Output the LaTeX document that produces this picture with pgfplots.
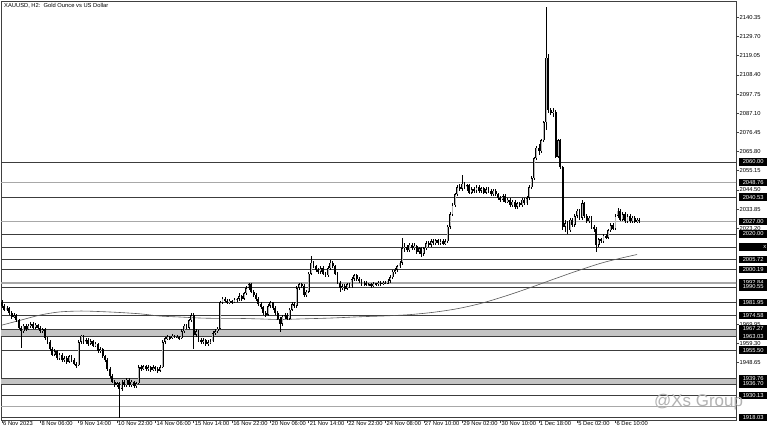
\documentclass[border=0pt]{standalone}
\usepackage{fontspec}
\setmainfont{Liberation Sans}
\usepackage{pgfplots}
\usepackage{pgfplotstable}
\pgfplotsset{compat=1.18}
\pgfplotstableread{
i o h l c
0 1982 1983.5 1979 1980
1 1980 1981 1977 1978
2 1978 1980 1977.5 1979
3 1979 1979.5 1975 1976
4 1976 1977 1973 1974
5 1974 1976 1973.5 1975
6 1975 1975.5 1971 1972
7 1972 1973 1967 1968
8 1968 1969 1956.7 1966
9 1966 1970 1965 1969
10 1969 1970 1966 1967
11 1967 1970 1966.5 1969
12 1969 1971 1968 1970
13 1970 1971 1967 1968
14 1968 1970.5 1967.5 1969.5
15 1969.5 1970 1967 1968
16 1968 1969 1965 1966
17 1966 1968 1965 1967
18 1967 1968 1961 1962
19 1962 1963 1959 1960
20 1960 1961 1955 1956
21 1956 1957 1952 1953
22 1953 1956 1952 1955
23 1955 1955.5 1950 1951
24 1951 1954 1950 1953
25 1953 1954 1949 1950
26 1950 1952 1949 1951
27 1951 1952 1948 1949
28 1949 1953 1948.5 1952
29 1952 1953 1949 1950
30 1950 1951 1947 1948
31 1948 1949 1945.5 1947
32 1947 1961 1946.5 1960
33 1960 1964 1959 1963.5
34 1963.5 1964 1959 1960
35 1960 1962 1959 1961
36 1961 1962 1958 1959
37 1959 1961.5 1958.5 1960.5
38 1960.5 1961 1957 1958
39 1958 1960 1957 1959
40 1959 1959.5 1954 1955
41 1955 1957 1954 1956
42 1956 1956.5 1951 1952
43 1952 1953 1949 1950
44 1950 1951 1944 1945
45 1945 1946 1940 1941
46 1941 1942 1937 1938
47 1938 1939 1935 1936
48 1936 1938 1935 1937
49 1937 1938 1917.8 1934
50 1934 1939 1933 1938
51 1938 1939 1935 1936
52 1936 1940 1935 1939
53 1939 1940 1935 1936
54 1936 1939 1935 1938
55 1938 1938.5 1934.5 1935.5
56 1935.5 1938 1934.5 1937
57 1937 1947 1936.5 1946
58 1946 1947.5 1944 1945
59 1945 1947 1944.5 1946.5
60 1946.5 1947 1944 1945
61 1945 1947 1944 1946
62 1946 1946.5 1943.5 1944.5
63 1944.5 1947 1944 1946
64 1946 1946.5 1944 1945
65 1945 1946 1943 1944
66 1944 1947 1943.5 1946
67 1946 1961 1945.5 1960
68 1960 1963 1959 1962
69 1962 1964 1961 1963
70 1963 1963.5 1961 1962
71 1962 1964.5 1961.5 1963.5
72 1963.5 1964 1962 1962.5
73 1962.5 1964 1962 1963
74 1963 1963.5 1961 1962
75 1962 1967 1961.5 1966
76 1966 1970 1965 1969
77 1969 1970 1967 1968
78 1968 1973 1967.5 1972
79 1972 1976 1971 1975
80 1975 1976 1956 1964
81 1964 1967 1963 1966
82 1966 1966.5 1960 1961
83 1961 1962 1959 1960
84 1960 1962 1959 1961
85 1961 1961.5 1958 1959
86 1959 1961 1958 1960
87 1960 1961.5 1959 1960.5
88 1960.5 1966 1960 1965
89 1965 1967 1964 1966
90 1966 1968.5 1965 1967.5
91 1967.5 1983 1967 1982
92 1982 1985 1981 1984
93 1984 1985 1982 1983
94 1983 1984 1981 1982
95 1982 1984 1981 1983
96 1983 1983.5 1981 1982
97 1982 1984.5 1981.5 1983.5
98 1983.5 1984.5 1982 1984
99 1984 1987 1983 1985.5
100 1985.5 1986 1983 1984
101 1984 1988 1983.5 1987
102 1987 1991 1986 1990
103 1990 1993 1989 1992
104 1992 1992.5 1987 1988
105 1988 1989 1985 1986
106 1986 1987 1983 1984
107 1984 1985 1980 1981
108 1981 1982 1978.5 1979.5
109 1979.5 1980 1975 1976
110 1976 1977 1974 1975
111 1975 1981 1974.5 1980
112 1980 1983 1979 1982
113 1982 1982.5 1978 1979
114 1979 1980 1975 1976
115 1976 1977 1972 1973
116 1973 1974 1965.7 1970
117 1970 1975 1969 1974
118 1974 1976 1973 1975
119 1975 1976 1972 1973
120 1973 1979 1972.5 1978
121 1978 1982 1977 1981
122 1981 1982 1979 1980
123 1980 1991 1979 1990
124 1990 1993 1989 1992
125 1992 1993 1990 1991
126 1991 1992 1985 1986
127 1986 1989 1985 1988
128 1988 1999 1987 1998
129 1998 2007.8 1997 2004
130 2004 2005 2001 2002
131 2002 2003 1999 2000
132 2000 2001 1998 1999
133 1999 2002 1998 2001
134 2001 2002 1997 1998
135 1998 1999 1996 1997
136 1997 2002 1996 2001
137 2001 2005.6 2000 2004
138 2004 2005 2001 2002
139 2002 2003 1997 1998
140 1998 1999 1992 1993
141 1993 1994 1987.8 1990
142 1990 1992 1989 1991
143 1991 1992 1988.5 1989.5
144 1989.5 1993 1989 1992
145 1992 1993 1990 1991
146 1991 1996 1990 1995
147 1995 1998 1994 1997
148 1997 1998 1994 1995
149 1995 1996 1993 1994
150 1994 1995 1991 1992
151 1992 1994 1991 1993
152 1993 1994 1991 1991.5
153 1991.5 1993 1991 1992
154 1992 1993 1990 1991
155 1991 1993.5 1990.5 1992.5
156 1992.5 1993 1991 1992
157 1992 1994 1991 1993
158 1993 1994 1991 1992
159 1992 1994 1991.5 1993
160 1993 1994 1992 1992.5
161 1992.5 1995 1992 1994
162 1994 1997 1993 1996
163 1996 2000 1995 1999
164 1999 2001 1998 2000
165 2000 2003 1999 2002
166 2002 2005 2001 2004
167 2004 2018 2003 2012
168 2012 2015 2010 2013
169 2013 2014 2010 2011
170 2011 2015 2010 2014
171 2014 2015 2011 2012
172 2012 2015 2011 2013.5
173 2013.5 2014 2009 2010
174 2010 2013 2009 2012
175 2012 2013 2007 2009
176 2009 2013 2008 2012
177 2012 2016 2011 2015
178 2015 2016 2013 2014
179 2014 2017 2013 2016
180 2016 2017 2014 2015
181 2015 2017 2014 2016.5
182 2016.5 2017 2014 2015
183 2015 2017 2014 2016
184 2016 2017 2014 2014.5
185 2014.5 2017 2014 2016
186 2016 2025 2015 2024
187 2024 2032 2023 2031
188 2031 2037 2030 2036
189 2036 2043 2035 2042
190 2042 2047 2041 2046
191 2046 2048 2044 2045
192 2045 2052.8 2044 2048
193 2048 2049 2045 2046
194 2046 2048 2044 2047
195 2047 2048 2042 2043
196 2043 2046 2042 2045
197 2045 2046 2043 2044
198 2044 2047 2043 2046
199 2046 2047 2043 2044
200 2044 2046 2043 2045.5
201 2045.5 2046 2042 2043
202 2043 2046 2042 2045
203 2045 2046 2043 2044
204 2044 2045 2041 2042
205 2042 2045 2041 2044
206 2044 2045 2041 2042
207 2042 2043 2039 2040
208 2040 2041 2038 2039
209 2039 2042 2038 2041
210 2041 2042 2037 2038
211 2038 2040 2037 2039
212 2039 2040 2035 2036
213 2036 2039 2035 2038
214 2038 2039 2034 2035
215 2035 2038 2034 2037
216 2037 2038 2035 2036
217 2036 2040 2035 2039
218 2039 2040 2036 2037
219 2037 2041 2036 2040
220 2040 2047 2039 2046
221 2046 2052 2045 2051
222 2051 2063 2050 2062
223 2062 2069 2061 2068
224 2068 2070 2064 2066
225 2066 2073 2065 2072
226 2072 2083 2071 2082
227 2082 2146 2078 2118
228 2118 2120 2087 2089
229 2089 2090 2086 2087
230 2087 2090 2085 2088
231 2088 2089 2062 2063
232 2063 2073 2062 2072
233 2072 2073 2056 2057
234 2057 2058 2022 2024
235 2024 2028 2021 2026
236 2026 2027 2020 2022
237 2022 2029 2021 2028
238 2028 2029 2024 2025
239 2025 2031 2024 2030
240 2030 2034 2029 2033
241 2033 2034 2028 2029
242 2029 2039 2028 2037
243 2037 2038 2029 2030
244 2030 2031 2026 2027
245 2027 2030 2026 2029
246 2029 2030 2023 2024
247 2024 2025 2021 2023
248 2023 2024 2010 2014
249 2014 2018 2013 2017
250 2017 2018 2015 2016
251 2016 2020 2015 2019
252 2019 2020 2017 2018
253 2018 2023 2017 2022
254 2022 2026 2021 2025
255 2025 2026 2022 2023
256 2023 2031 2022 2030
257 2030 2034.5 2029 2033
258 2033 2034 2027 2028
259 2028 2032 2027 2031
260 2031 2032 2026 2027
261 2027 2031 2026 2030
262 2030 2031 2026 2027
263 2027 2030 2026 2029
264 2029 2030 2026 2026.5
265 2026.5 2029 2026 2028
266 2028 2029 2026 2027
}\bars
\pgfplotstableread{
i ma
0 1969.4
8 1972.2
16 1975.0
24 1976.7
33 1977.2
41 1976.9
49 1976.4
58 1975.6
66 1974.4
74 1973.9
83 1973.3
91 1973.1
99 1973.1
108 1972.8
116 1972.5
124 1972.8
137 1973.3
149 1974.0
160 1974.5
170 1975.2
180 1976.5
190 1978.5
200 1981.5
210 1985.5
220 1990.0
230 1994.8
240 1999.5
250 2003.8
258 2006.5
265 2008.6
}\matab
\definecolor{lvl}{HTML}{3C3C3C}
\definecolor{glvl}{HTML}{A8A8A8}
\definecolor{band}{HTML}{C4C4C4}
\definecolor{bull}{HTML}{B8B8B8}
\newcommand{\tf}{\fontsize{5.8}{6.5}\selectfont}
\begin{document}
\begin{tikzpicture}
\useasboundingbox (0,0) rectangle (768bp,433bp);
\begin{axis}[
  at={(1bp,13bp)}, anchor=south west,
  scale only axis, width=735bp, height=419bp,
  xmin=-0.42, xmax=306.3, ymin=1916.67, ymax=2149.44,
  clip=true,
  axis line style={draw=black!75, line width=0.6bp},
  tick style={draw=black!75, line width=0.5bp},
  tick align=outside, major tick length=3bp,
  xtick={0,16,...,256},
  xticklabels={6 Nov 2023, 8 Nov 06:00, 9 Nov 14:00, 10 Nov 22:00, 14 Nov 06:00, 15 Nov 14:00, 16 Nov 22:00, 20 Nov 06:00, 21 Nov 14:00, 22 Nov 22:00, 24 Nov 08:00, 27 Nov 10:00, 29 Nov 02:00, 30 Nov 10:00, 1 Dec 18:00, 5 Dec 02:00, 6 Dec 10:00},
  xticklabel style={font=\tf, anchor=north west, inner sep=0pt, xshift=1bp, yshift=2bp},
  xtick pos=bottom,
  ytick pos=right, yticklabel pos=right,
  ytick={2140.35,2129.70,2119.05,2108.40,2097.75,2087.10,2076.45,2065.80,2055.15,2044.50,2033.85,2023.20,1969.95,1959.30,1948.65},
  yticklabels={2140.35,2129.70,2119.05,2108.40,2097.75,2087.10,2076.45,2065.80,2055.15,2044.50,2033.85,2023.20,1969.95,1959.30,1948.65},
  yticklabel style={font=\tf, anchor=west, inner sep=0pt, xshift=0.5bp},
  axis background/.style={fill=white},
]
% grey bands
\fill[band] (axis cs:-5,1963.03) rectangle (axis cs:320,1967.27);
\fill[band] (axis cs:-5,1936.70) rectangle (axis cs:320,1939.76);
% level lines
\addplot[glvl, line width=1.3bp, forget plot] coordinates {(-5,2048.76) (320,2048.76)};
\addplot[glvl, line width=1.3bp, forget plot] coordinates {(-5,2027.00) (320,2027.00)};
\addplot[glvl, line width=1.3bp, forget plot] coordinates {(-5,1992.84) (320,1992.84)};
\addplot[glvl, line width=1.0bp, forget plot] coordinates {(-5,1924.40) (320,1924.40)};
\foreach \p in {2060.00,2040.53,2020.00,2012.80,2005.72,2000.19,1990.55,1981.95,1974.58,1967.27,1963.03,1955.50,1939.76,1936.70,1930.13,1918.03}{
  \addplot[lvl, line width=0.6bp, forget plot] coordinates {(-5,\p) (320,\p)};
}
% moving average
\addplot[black!65, line width=0.6bp, smooth, forget plot] table[x=i, y=ma] {\matab};
% wicks
\addplot[draw=none, mark=none, forget plot,
  error bars/.cd, y dir=both, y explicit, error mark=none,
  error bar style={draw=black, line width=0.55bp}]
  table[x=i, y expr={(\thisrow{h}+\thisrow{l})/2}, y error expr={(\thisrow{h}-\thisrow{l})/2}] {\bars};
% bullish bodies
\addplot[draw=none, mark=none, forget plot,
  restrict expr to domain={\thisrow{c}-\thisrow{o}}{0:1000},
  error bars/.cd, y dir=both, y explicit, error mark=none,
  error bar style={draw=black, line width=1.9bp}]
  table[x=i, y expr={(\thisrow{o}+\thisrow{c})/2}, y error expr={max(abs(\thisrow{c}-\thisrow{o})/2,0.3)}] {\bars};
\addplot[draw=none, mark=none, forget plot,
  restrict expr to domain={\thisrow{c}-\thisrow{o}}{0:1000},
  error bars/.cd, y dir=both, y explicit, error mark=none,
  error bar style={draw=bull, line width=0.8bp}]
  table[x=i, y expr={(\thisrow{o}+\thisrow{c})/2}, y error expr={max(abs(\thisrow{c}-\thisrow{o})/2-0.3,0.01)}] {\bars};
% bearish bodies
\addplot[draw=none, mark=none, forget plot,
  restrict expr to domain={\thisrow{c}-\thisrow{o}}{-1000:-0.001},
  error bars/.cd, y dir=both, y explicit, error mark=none,
  error bar style={draw=black, line width=1.9bp}]
  table[x=i, y expr={(\thisrow{o}+\thisrow{c})/2}, y error expr={max(abs(\thisrow{c}-\thisrow{o})/2,0.3)}] {\bars};
\end{axis}
% price boxes
\foreach \p/\t in {2060.00/2060.00,2048.76/2048.76,2040.53/2040.53,2027.00/2027.00,2020.00/2020.00,2005.72/2005.72,2000.19/2000.19,1992.84/1992.84,1990.55/1990.55,1981.95/1981.95,1974.58/1974.58,1967.27/1967.27,1963.03/1963.03,1955.50/1955.50,1939.76/1939.76,1936.70/1936.70,1930.13/1930.13,1918.03/1918.03}{
  \pgfmathsetmacro{\yy}{13+(\p-1916.67)*1.80006}
  \node[fill=black, text=white, font=\tf, inner sep=0pt, minimum width=28bp, minimum height=7.4bp, anchor=west] at (739bp,\yy bp) {\t};
}
\pgfmathsetmacro{\yx}{13+(2012.80-1916.67)*1.80006}
\node[fill=black, text=white, font=\tf, inner sep=0pt, minimum width=28bp, minimum height=7.4bp, anchor=west, text width=26bp, align=right] at (739bp,\yx bp) {x};
% title
\node[font=\tf, anchor=west, inner sep=0pt] at (4bp,427bp) {XAUUSD, H2:\ \ Gold Ounce vs US Dollar};
% watermark
\node[font=\fontsize{17}{17}\selectfont, text=black!30, anchor=west, inner sep=0pt] at (654bp,31bp) {@Xs Group};
\end{tikzpicture}
\end{document}
